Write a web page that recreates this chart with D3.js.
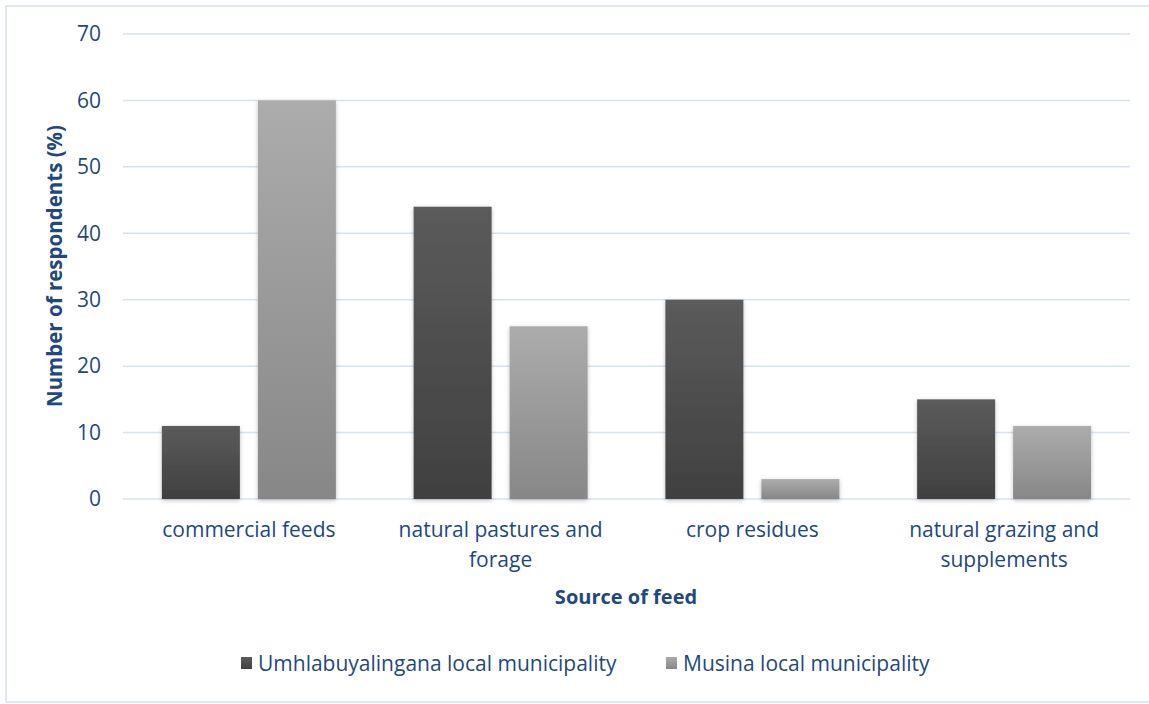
<!DOCTYPE html>
<html>
<head>
<meta charset="utf-8">
<script src="https://cdn.jsdelivr.net/npm/d3@7"></script>
<style>
  html, body { margin: 0; padding: 0; background: #ffffff; }
  svg { display: block; }
  text { font-family: "Open Sans", "Noto Sans", sans-serif; fill: #1f497d; }
</style>
</head>
<body>
<svg id="chart" width="1149" height="704"></svg>
<script>
// Source of feed by municipality (% of respondents)
const categories = [
  ["commercial feeds"],
  ["natural pastures and", "forage"],
  ["crop residues"],
  ["natural grazing and", "supplements"]
];
const seriesNames = ["Umhlabuyalingana local municipality", "Musina local municipality"];
const umhlabuyalingana = [11, 44, 30, 15];
const musina = [60, 26, 3, 11];
const yTicks = [0, 10, 20, 30, 40, 50, 60, 70];

const svg = d3.select("#chart");
const W = 1149, H = 704;
const plot = { left: 123, right: 1130, top: 34, bottom: 499 };
const labelSize = "21px";

// outer chart frame
svg.append("rect")
  .attr("x", 6).attr("y", 6).attr("width", W + 10).attr("height", H - 8)
  .attr("fill", "none").attr("stroke", "#d6e1ef").attr("stroke-width", 1.5);

const defs = svg.append("defs");
const grads = [
  { id: "gDark", top: "#5b5b5b", bottom: "#404040" },
  { id: "gLight", top: "#acacac", bottom: "#878787" }
];
grads.forEach(g => {
  const lg = defs.append("linearGradient").attr("id", g.id)
    .attr("x1", 0).attr("y1", 0).attr("x2", 0).attr("y2", 1);
  lg.append("stop").attr("offset", "0%").attr("stop-color", g.top);
  lg.append("stop").attr("offset", "100%").attr("stop-color", g.bottom);
});
const shadow = defs.append("filter").attr("id", "shadow")
  .attr("x", "-20%").attr("y", "-20%").attr("width", "140%").attr("height", "140%");
shadow.append("feDropShadow").attr("dx", 0).attr("dy", 1.5)
  .attr("stdDeviation", 2).attr("flood-color", "#000").attr("flood-opacity", 0.25);

const x = d3.scaleBand().domain(d3.range(categories.length))
  .range([plot.left, plot.right]).paddingInner(0).paddingOuter(0);
const y = d3.scaleLinear().domain([0, 70]).range([plot.bottom, plot.top]);

// gridlines
svg.append("g").selectAll("line").data(yTicks).join("line")
  .attr("x1", plot.left).attr("x2", plot.right)
  .attr("y1", d => y(d)).attr("y2", d => y(d))
  .attr("stroke", "#d6e2f0").attr("stroke-width", 1.5);

// y axis labels
const yAxis = d3.axisLeft(y).tickValues(yTicks).tickSize(0).tickPadding(0);
const yg = svg.append("g").attr("transform", `translate(${plot.left - 22},0)`).call(yAxis);
yg.select(".domain").remove();
yg.selectAll("text").style("font-size", labelSize).attr("fill", "#1f497d")
  .style("font-family", "'Open Sans', sans-serif");

// bars
const series = [umhlabuyalingana, musina];
const bw = x.bandwidth();
const barW = 78, gap = 18;
const inner = d3.scaleBand().domain([0, 1]).range([0, barW * 2 + gap]).paddingInner(gap / (barW + gap));
const groups = svg.append("g").selectAll("g").data(categories).join("g")
  .attr("transform", (d, i) => `translate(${x(i) + (bw - (barW * 2 + gap)) / 2},0)`);
groups.selectAll("rect").data((d, i) => series.map((s, k) => ({ k, v: s[i] }))).join("rect")
  .attr("x", d => inner(d.k))
  .attr("width", inner.bandwidth())
  .attr("y", d => y(d.v))
  .attr("height", d => y(0) - y(d.v))
  .attr("fill", d => d.k === 0 ? "url(#gDark)" : "url(#gLight)")
  .attr("filter", "url(#shadow)");

// category labels
const xl = svg.append("g").selectAll("text").data(categories).join("text")
  .attr("text-anchor", "middle")
  .attr("x", (d, i) => x(i) + bw / 2)
  .attr("y", 537)
  .style("font-size", labelSize);
xl.selectAll("tspan").data(d => d).join("tspan")
  .attr("x", function () { return d3.select(this.parentNode).attr("x"); })
  .attr("dy", (d, j) => j === 0 ? 0 : 30)
  .text(d => d);

// axis titles
svg.append("text").attr("x", 626).attr("y", 604).attr("text-anchor", "middle")
  .style("font-size", "20px").style("font-weight", "bold").text("Source of feed");
svg.append("text")
  .attr("transform", "translate(62,266) rotate(-90)")
  .attr("text-anchor", "middle")
  .style("font-size", "20.5px").style("font-weight", "bold")
  .text("Number of respondents (%)");

// legend
const legendItems = [
  { name: seriesNames[0], fill: "url(#gDark)", x: 241 },
  { name: seriesNames[1], fill: "url(#gLight)", x: 666 }
];
const lg = svg.append("g").selectAll("g").data(legendItems).join("g")
  .attr("transform", d => `translate(${d.x},657)`);
lg.append("rect").attr("width", 11).attr("height", 12).attr("fill", d => d.fill);
lg.append("text").attr("x", 17).attr("y", 14).style("font-size", labelSize).text(d => d.name);
</script>
</body>
</html>
